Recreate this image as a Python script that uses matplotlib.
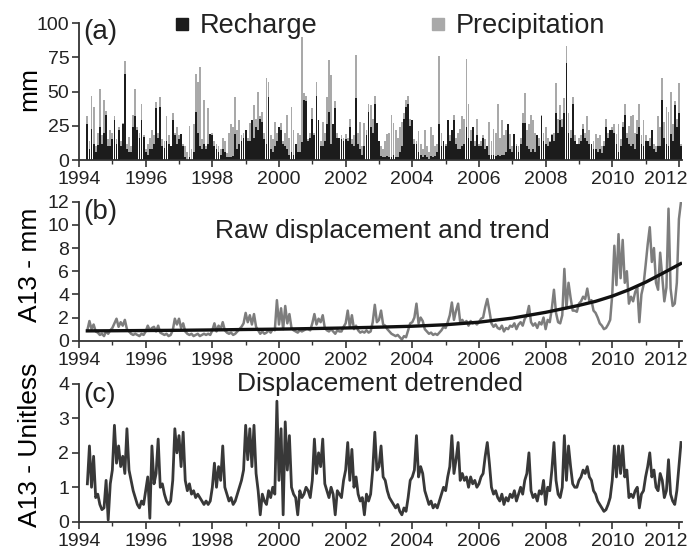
import numpy as np
import matplotlib.pyplot as plt
import matplotlib.transforms as mtransforms
from matplotlib.lines import Line2D
from matplotlib.ticker import MultipleLocator

plt.rcParams.update({
    "font.family": ["Liberation Sans", "DejaVu Sans"],
    "axes.edgecolor": "#333333",
    "axes.linewidth": 1.3,
    "xtick.color": "#333333",
    "ytick.color": "#333333",
    "xtick.labelcolor": "#222222",
    "ytick.labelcolor": "#222222",
})

# sampling: every 1/16 year from 1994.25
T_START = 1994.25
T_STEP = 1 / 16

# (a) precipitation and recharge [mm], one row per year
precip = [
    32, 14, 47, 39, 10, 20, 52, 18, 44, 36, 15, 22,                  # 1994 (from Apr)
    20, 32, 15, 24, 14, 27, 72, 12, 17, 10, 33, 52, 24, 20, 41, 18,  # 1995
    8, 12, 16, 22, 18, 42, 20, 46, 15, 14, 32, 18, 10, 34, 20, 24,   # 1996
    18, 19, 12, 10, 6, 25, 8, 26, 63, 57, 68, 15, 44, 10, 38, 19,    # 1997
    20, 14, 12, 10, 8, 16, 14, 5, 20, 26, 24, 46, 22, 29, 18, 20,    # 1998
    22, 16, 27, 29, 40, 30, 50, 32, 35, 20, 60, 57, 18, 15, 28, 20,  # 1999
    24, 27, 14, 20, 33, 16, 39, 22, 12, 20, 18, 90, 49, 47, 15, 20,  # 2000
    38, 20, 57, 29, 14, 28, 20, 46, 73, 62, 26, 43, 20, 16, 18, 16,  # 2001
    19, 16, 30, 15, 18, 77, 20, 28, 10, 27, 22, 41, 40, 30, 47, 27,  # 2002
    14, 10, 8, 14, 19, 20, 33, 27, 22, 16, 24, 28, 34, 44, 47, 30,   # 2003
    29, 15, 14, 21, 12, 8, 22, 10, 6, 24, 18, 10, 12, 76, 20, 14,    # 2004
    12, 29, 18, 22, 33, 16, 20, 23, 32, 30, 74, 41, 22, 24, 14, 30,  # 2005
    12, 14, 18, 15, 10, 28, 14, 23, 20, 41, 16, 29, 18, 22, 26, 19,  # 2006
    10, 19, 12, 10, 16, 34, 49, 22, 26, 33, 29, 20, 18, 16, 33, 20,  # 2007
    24, 16, 14, 19, 20, 56, 30, 40, 30, 45, 83, 34, 22, 46, 18, 12,  # 2008
    16, 18, 26, 20, 32, 22, 12, 14, 19, 16, 18, 10, 14, 30, 20, 22,  # 2009
    24, 26, 19, 26, 15, 28, 41, 20, 25, 32, 33, 20, 29, 41, 18, 29,  # 2010
    18, 14, 16, 22, 12, 10, 32, 24, 60, 28, 39, 35, 50, 26, 43, 30,  # 2011
    56, 12,                                                          # 2012
]
recharge = [
    26, 8, 23, 12, 6, 11, 24, 12, 20, 33, 10, 10,
    15, 29, 12, 22, 10, 26, 63, 8, 6, 6, 24, 32, 22, 16, 29, 17,
    6, 4, 8, 8, 12, 38, 16, 39, 10, 9, 14, 12, 10, 29, 18, 12,
    15, 19, 10, 2, 0, 2, 0, 6, 35, 20, 10, 8, 12, 8, 12, 19,
    18, 10, 8, 6, 4, 8, 6, 2, 2, 2, 3, 19, 8, 12, 14, 16,
    22, 14, 14, 29, 16, 24, 22, 30, 28, 15, 12, 46, 8, 6, 10, 14,
    24, 22, 12, 10, 8, 4, 6, 4, 12, 6, 6, 13, 44, 43, 14, 16,
    30, 18, 47, 29, 10, 10, 14, 26, 35, 12, 26, 38, 16, 16, 15, 14,
    15, 14, 24, 12, 10, 45, 12, 8, 4, 10, 18, 35, 24, 20, 41, 27,
    14, 3, 2, 2, 3, 2, 2, 4, 2, 2, 6, 10, 30, 39, 41, 25,
    29, 12, 12, 6, 4, 2, 4, 2, 1, 3, 2, 3, 6, 26, 10, 14,
    10, 29, 14, 22, 29, 12, 8, 8, 10, 12, 24, 16, 14, 24, 10, 18,
    10, 10, 16, 8, 10, 4, 4, 4, 3, 4, 3, 4, 4, 6, 26, 8,
    6, 19, 10, 6, 12, 27, 27, 10, 8, 6, 8, 6, 18, 10, 32, 14,
    12, 10, 13, 18, 14, 34, 20, 29, 24, 34, 71, 20, 16, 41, 14, 12,
    12, 14, 23, 16, 14, 12, 12, 8, 8, 6, 8, 5, 10, 24, 16, 22,
    22, 20, 12, 6, 10, 24, 33, 16, 12, 10, 12, 8, 19, 24, 12, 10,
    14, 14, 10, 22, 8, 6, 10, 10, 44, 16, 12, 10, 19, 14, 40, 24,
    34, 10,
]

# (b) raw displacement A13 [mm]
raw_disp = [
    0.9, 1.7, 1.0, 1.4, 0.8, 0.7, 0.5, 0.6, 0.4, 0.8, 0.6, 0.9,
    1.1, 1.5, 1.9, 1.2, 1.6, 1.3, 1.8, 1.0, 0.8, 0.6, 0.5, 0.6, 0.5, 0.4, 0.6, 0.5,
    0.8, 1.3, 0.9, 1.1, 1.2, 0.8, 1.3, 0.7, 0.6, 0.5, 0.6, 0.4, 0.5, 0.9, 1.9, 1.4,
    1.9, 1.1, 1.5, 0.8, 0.6, 0.5, 0.6, 0.4, 0.5, 0.6, 0.4, 0.5, 0.6, 0.5, 0.6, 0.5,
    0.9, 1.5, 0.8, 1.3, 1.0, 1.6, 0.9, 0.7, 0.6, 0.7, 0.5, 0.6, 0.8, 1.0, 1.2, 1.5,
    2.4, 1.6, 2.2, 1.4, 2.3, 1.2, 0.9, 0.6, 0.8, 0.6, 0.7, 0.9, 0.7, 1.0, 0.9, 3.5,
    1.4, 2.8, 1.0, 3.0, 1.5, 2.3, 1.1, 0.9, 0.8, 0.7, 0.9, 0.8, 0.9, 1.0, 1.0, 0.9,
    1.5, 2.3, 1.4, 1.9, 1.6, 2.2, 1.1, 0.9, 0.8, 1.0, 0.8, 0.6, 0.9, 0.8, 0.8, 1.2,
    1.5, 2.6, 1.2, 2.2, 1.0, 1.3, 0.9, 0.7, 0.8, 0.7, 0.9, 0.7, 0.8, 1.6, 3.1, 1.6,
    1.8, 2.6, 1.4, 1.3, 1.0, 0.8, 0.6, 0.5, 0.4, 0.5, 0.3, 0.1, 0.4, 0.3, 0.9, 1.5,
    1.6, 2.0, 3.2, 1.5, 2.0, 1.7, 1.0, 0.8, 0.6, 0.7, 0.5, 0.6, 0.5, 0.7, 0.9, 1.2,
    1.1, 1.6, 2.2, 3.3, 1.8, 2.6, 3.2, 1.6, 1.8, 1.5, 1.7, 1.3, 1.7, 1.5, 1.6, 1.4,
    1.6, 1.9, 2.0, 2.9, 3.6, 2.6, 1.5, 1.2, 1.4, 1.1, 1.0, 1.3, 0.8, 1.1, 1.0, 1.3,
    1.2, 1.5, 1.0, 1.4, 1.6, 1.3, 1.9, 2.2, 3.0, 1.6, 1.3, 1.5, 1.1, 1.6, 1.4, 2.0,
    1.0, 1.8, 1.6, 2.8, 4.4, 2.4, 1.6, 1.5, 2.2, 6.2, 2.8, 5.0, 3.7, 2.6, 2.6, 2.5,
    3.2, 3.4, 3.8, 3.6, 4.5, 3.4, 3.5, 2.6, 2.4, 2.0, 1.5, 1.3, 1.0, 1.1, 1.4, 1.8,
    4.0, 8.2, 4.8, 9.2, 5.4, 8.7, 5.0, 6.0, 3.2, 3.8, 3.4, 4.2, 4.6, 1.6, 4.0, 4.8,
    6.5, 8.3, 9.8, 6.8, 8.0, 5.0, 4.4, 7.6, 5.5, 3.4, 4.6, 11.4, 4.5, 3.0, 3.2, 5.0,
    10.5, 12.0,
]
trend_years = [1994.25, 1995, 1996, 1997, 1998, 1999, 2000, 2001, 2002, 2003,
               2004, 2005, 2006, 2007, 2008, 2009, 2009.5, 2010, 2010.5, 2011,
               2011.5, 2012.05]
trend_disp = [0.85, 0.86, 0.88, 0.9, 0.93, 0.97, 1.0, 1.05, 1.1, 1.17,
              1.25, 1.38, 1.6, 1.95, 2.45, 3.05, 3.4, 3.85, 4.4, 5.05,
              5.8, 6.65]

# (c) detrended displacement [-]
detrended = [
    1.1, 2.2, 1.0, 1.9, 0.7, 0.8, 0.5, 0.35, 0.4, 1.2, 0.05, 1.1,
    1.5, 2.8, 1.7, 2.2, 1.6, 1.9, 1.4, 2.7, 1.5, 1.2, 0.9, 0.7, 0.5, 0.4, 0.6, 0.5,
    0.9, 1.3, 0.1, 2.2, 1.1, 1.4, 2.4, 1.0, 1.1, 0.8, 0.6, 0.5, 0.6, 1.2, 2.7, 2.0,
    2.5, 1.6, 2.6, 1.2, 0.9, 1.1, 0.8, 0.9, 0.7, 0.8, 0.7, 0.6, 0.5, 0.6, 0.5, 0.6,
    1.0, 1.7, 1.0, 1.6, 1.2, 2.2, 1.0, 0.8, 0.6, 0.7, 0.5, 0.6, 0.8, 1.0, 1.2, 1.5,
    2.8, 1.8, 2.7, 1.6, 2.8, 1.4, 0.9, 0.2, 0.8, 0.6, 0.5, 0.9, 0.7, 1.0, 0.8, 3.5,
    1.2, 2.7, 0.2, 2.9, 1.5, 2.5, 1.0, 0.8, 0.7, 0.2, 0.9, 0.7, 0.8, 1.0, 0.9, 0.7,
    1.2, 2.4, 1.4, 2.0, 1.6, 2.4, 1.1, 0.9, 0.7, 1.0, 0.8, 0.2, 0.9, 0.8, 0.7, 1.2,
    1.5, 2.3, 1.2, 2.1, 1.0, 1.3, 0.8, 0.6, 0.7, 0.2, 0.8, 0.6, 0.8, 1.5, 2.6, 1.5,
    1.6, 2.2, 1.3, 1.2, 0.9, 0.7, 0.6, 0.5, 0.4, 0.5, 0.3, 0.2, 0.4, 0.3, 0.7, 1.2,
    1.3, 1.5, 2.5, 1.3, 1.6, 1.4, 0.9, 0.7, 0.5, 0.6, 0.4, 0.5, 0.4, 0.6, 0.8, 1.0,
    0.9, 1.3, 1.6, 2.5, 1.4, 1.8, 2.3, 1.2, 1.4, 1.2, 1.3, 1.0, 1.3, 1.1, 1.2, 1.0,
    1.1, 1.3, 1.4, 1.9, 2.3, 1.7, 1.0, 0.8, 0.9, 0.7, 0.6, 0.8, 0.5, 0.7, 0.6, 0.8,
    0.7, 0.9, 0.6, 0.8, 1.0, 0.8, 1.2, 1.4, 2.0, 0.9, 0.7, 0.8, 0.6, 0.9, 0.8, 1.2,
    0.5, 1.0, 0.9, 1.5, 2.3, 1.2, 0.8, 0.7, 1.0, 2.5, 1.2, 2.2, 1.6, 1.1, 1.0, 1.0,
    1.2, 1.3, 1.5, 1.4, 1.6, 1.3, 1.2, 0.9, 0.8, 0.6, 0.5, 0.4, 0.3, 0.35, 0.5, 0.7,
    1.2, 2.2, 1.3, 2.2, 1.4, 2.2, 1.3, 1.5, 0.7, 0.8, 0.7, 0.9, 1.0, 0.4, 0.8, 0.9,
    1.3, 1.6, 2.0, 1.3, 1.5, 1.0, 0.9, 1.4, 1.2, 0.7, 0.9, 1.8, 0.8, 0.6, 0.5, 0.9,
    1.6, 2.3,
]

year_ticks = list(range(1994, 2013, 2))

n = len(precip)
assert n == len(recharge) == len(raw_disp) == len(detrended)
t = T_START + T_STEP * np.arange(n)

fig = plt.figure(figsize=(6.95, 5.56), dpi=100)
L, W = 0.1137, 0.8670
ax_a = fig.add_axes([L, 0.7122, W, 0.2464])
ax_b = fig.add_axes([L, 0.3872, W, 0.2500])
ax_c = fig.add_axes([L, 0.0617, W, 0.2477])

gray_bar = "#a9a9a9"
black_bar = "#1c1c1c"
ax_a.bar(t, precip, width=0.055, color=gray_bar, linewidth=0, align="center")
ax_a.bar(t, recharge, width=0.055, color=black_bar, linewidth=0, align="center")
ax_a.set_ylim(0, 100)
ax_a.yaxis.set_major_locator(MultipleLocator(25))
ax_a.set_ylabel("mm", fontsize=19)

ax_b.plot(t, raw_disp, color="#7d7d7d", lw=1.8)
ax_b.plot(trend_years, trend_disp, color="#111111", lw=2.4)
ax_b.set_ylim(0, 12)
ax_b.yaxis.set_major_locator(MultipleLocator(2))
ax_b.set_ylabel("A13 - mm", fontsize=19)

ax_c.plot(t, detrended, color="#383838", lw=2.0)
ax_c.set_ylim(0, 4)
ax_c.yaxis.set_major_locator(MultipleLocator(1))
ax_c.set_ylabel("A13 - Unitless", fontsize=19)

shift_left = mtransforms.ScaledTranslation(-13 / 100, 0, fig.dpi_scale_trans)
for ax, lab, ly, yl in [(ax_a, "(a)", 0.934, 0.52), (ax_b, "(b)", 0.926, 0.545),
                        (ax_c, "(c)", 0.92, 0.56)]:
    ax.set_xlim(1994, 2012.08)
    ax.set_xticks(year_ticks)
    ax.xaxis.set_minor_locator(MultipleLocator(1))
    ax.tick_params(axis="x", which="major", length=5, width=1.2, labelsize=14, pad=3)
    ax.tick_params(axis="x", which="minor", length=3, width=1.0)
    ax.tick_params(axis="y", which="major", length=5, width=1.2, labelsize=14, pad=2)
    ax.spines["top"].set_visible(False)
    ax.spines["right"].set_visible(False)
    ax.yaxis.set_label_coords(-0.062, yl)
    # the last year label sits a bit to the left, as in the original
    last = ax.get_xticklabels()[-1]
    last.set_transform(last.get_transform() + shift_left)
    ax.text(0.007, ly, lab, transform=ax.transAxes, fontsize=20,
            ha="left", va="center", color="#222222")

ax_b.text(0.503, 0.79, "Raw displacement and trend", transform=ax_b.transAxes,
          fontsize=19, ha="center", va="center", color="#222222")
ax_c.text(0.5, 1.0, "Displacement detrended", transform=ax_c.transAxes,
          fontsize=19, ha="center", va="center", color="#222222")

handles = [Line2D([], [], ls="none", marker="s", ms=8, color=black_bar),
           Line2D([], [], ls="none", marker="s", ms=8, color=gray_bar)]
ax_a.legend(handles, ["Recharge", "Precipitation"], ncol=2, frameon=False,
            loc="center left", bbox_to_anchor=(0.158, 0.975), borderaxespad=0,
            borderpad=0, handlelength=0.6, handletextpad=0.35,
            columnspacing=4.15, fontsize=19.5, labelcolor="#222222")

fig.savefig("out.png", dpi=100)
